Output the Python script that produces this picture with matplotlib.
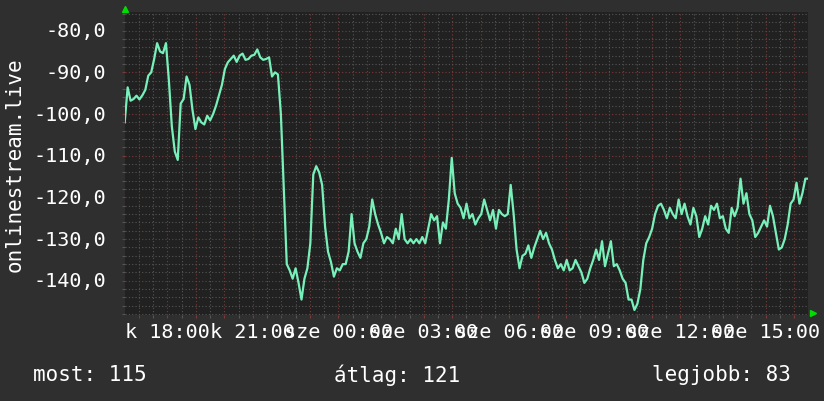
import numpy as np
import matplotlib
matplotlib.use("Agg")
import matplotlib.pyplot as plt
from matplotlib.ticker import MultipleLocator, FixedLocator

# signal level over the last 24 hours (graph starts at 16:30, evenly sampled)
signal = [
    # 16:30 - 19:10
    -102, -93.6, -96.8, -96.4, -95.6, -96.5, -95.5, -94.2, -90.8, -90,
    -86.8, -83, -85, -85.4, -83, -92, -103, -109, -111, -97.5,
    -96.4, -91, -93, -99, -103.6, -100.8, -102, -102.5, -100.4, -101.5,
    -100, -98, -95.5, -93, -89.2, -87.6, -86.8, -86, -87.5, -86,
    -85.5, -87, -86.8, -86, -85.8, -84.5, -86.4, -87, -86.8, -86.4,
    -91, -90, -90.5, -100, -118,
    # 22:00 - 01:00
    -136, -137.5, -139.5, -137, -140.5, -144.5, -139.5, -137, -131, -114.5,
    -112.5, -114, -117, -127, -133, -135.5, -139, -137, -137.5, -136,
    -136, -133, -124, -131, -133, -134.5, -131, -130, -127, -120.5,
    -124, -126.5, -128.5, -131, -129.5, -130, -131, -127.5, -130, -124,
    -130, -131, -130, -131, -130, -131, -129.5, -131, -127.5, -124,
    -125.5, -124.5, -131, -126, -127.5, -120.5,
    # 02:30 - 09:00
    -110.5, -119, -121.5, -122.5, -125, -121.5, -125, -124, -126.5, -125,
    -124, -120.5, -123, -125.5, -123, -127.5, -123, -124, -124.5, -124,
    -117, -124, -132.5, -137, -134, -133.5, -131.5, -134.5, -132, -130,
    -128, -130, -128.5, -131, -132.5, -135, -137, -136, -137.5, -135,
    -137.5, -137, -135, -136.5, -138, -140.5, -139.5, -137, -135, -132.5,
    -135, -130.5, -136.5, -133.5, -130.5, -136.5, -136, -137.5, -139.5, -140.5,
    -144.5, -144.5, -147, -145.5, -142, -135, -131, -129.5, -127.5,
    # 09:00 - 16:30
    -124, -122, -121.5, -123, -125, -122.5, -124, -125, -120.5, -124,
    -121.5, -124.5, -126.5, -122.5, -124.5, -129.5, -127.5, -124.5, -126.5, -122,
    -123, -121.5, -125, -124.5, -127.5, -128.5, -122.5, -124.5, -122.5, -115.5,
    -121.5, -119, -124, -125.5, -129.5, -128.5, -127, -125.5, -127, -122,
    -124.5, -128.5, -132.5, -132, -130, -126.5, -121.5, -120.5, -116.5, -121.5,
    -119, -115.5, -115.5,
]
hours = np.linspace(0, 24, len(signal))  # hours since 16:30

tick_hours = [1.5, 4.5, 7.5, 10.5, 13.5, 16.5, 19.5, 22.5]
tick_labels = ["k 18:00", "k 21:00", "sze 00:00", "sze 03:00",
               "sze 06:00", "sze 09:00", "sze 12:00", "sze 15:00"]
legend_items = [("most: 115", 33), ("átlag: 121", 334), ("legjobb: 83", 652)]

W, H = 824, 402
bg = '#2f2f2f'
plot_bg = '#212121'
line_color = '#78f0ba'
major_grid = '#7c3a3a'
minor_grid = '#565656'
mono = 'DejaVu Sans Mono'

fig = plt.figure(figsize=(W / 100, H / 100), dpi=100, facecolor=bg)
ax = fig.add_axes([124.7 / W, 1 - 316 / H, (808.3 - 124.7) / W, (316 - 13.3) / H])
ax.set_facecolor(plot_bg)

ax.plot(hours, signal, color=line_color, linewidth=1.6, zorder=3)

ax.set_xlim(0, 24)
ax.set_ylim(-148.2, -75.6)

# grid: red dotted every hour / 10 units, grey dotted every 30 min / 2 units
ax.xaxis.set_major_locator(FixedLocator(np.arange(0.5, 24, 1.0)))
ax.xaxis.set_minor_locator(FixedLocator(np.arange(1.0, 24, 1.0)))
ax.yaxis.set_major_locator(MultipleLocator(10))
ax.yaxis.set_minor_locator(MultipleLocator(2))
ax.grid(which='major', color=major_grid, linestyle=(0, (1, 2)), linewidth=0.8)
ax.grid(which='minor', color=minor_grid, linestyle=(0, (1, 2)), linewidth=0.8)
ax.set_axisbelow(True)

ax.tick_params(which='major', colors=major_grid, length=2, width=0.8, labelbottom=False, labelleft=False)
ax.tick_params(which='minor', colors=minor_grid, length=2, width=0.8)
for s in ax.spines.values():
    s.set_visible(False)

# y tick labels with decimal comma
for v in range(-80, -141, -10):
    ax.text(-0.027, v, f'{v:.1f}'.replace('.', ','), transform=ax.get_yaxis_transform(),
            ha='right', va='center', color='white', fontsize=14.5, family=mono)

# time labels (they overlap, as in the original)
for h, lab in zip(tick_hours, tick_labels):
    ax.text(h, -0.022, lab, transform=ax.get_xaxis_transform(),
            ha='center', va='top', color='white', fontsize=14.5, family=mono)

fig.text(15 / W, 1 - 165 / H, 'onlinestream.live', rotation=90, ha='center', va='center',
         color='white', fontsize=15, family=mono)

for txt, x in legend_items:
    fig.text(x / W, 1 - 375 / H, txt, ha='left', va='center', color='white',
             fontsize=15, family=mono)

# green axis arrows
fig.lines.append(plt.Line2D([125 / W], [1 - 10 / H], marker='^', color='#00dd00',
                            markersize=5, transform=fig.transFigure))
fig.lines.append(plt.Line2D([813 / W], [1 - 314 / H], marker='>', color='#00dd00',
                            markersize=5, transform=fig.transFigure))

fig.savefig('out.png', dpi=100, facecolor=bg)
